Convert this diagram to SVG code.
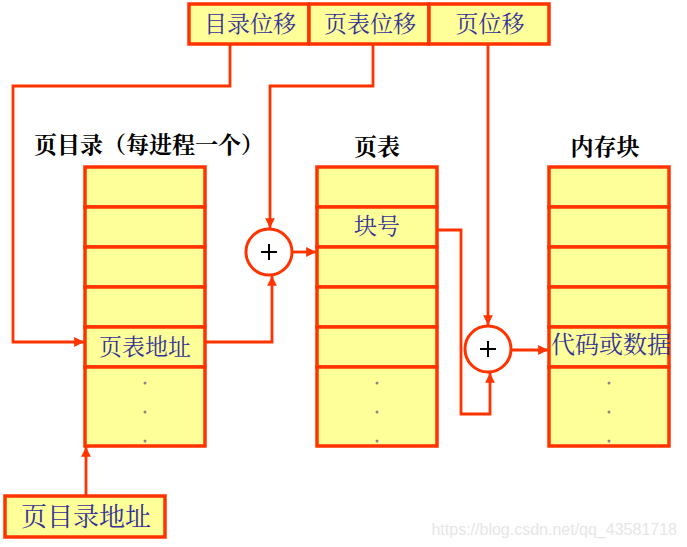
<svg xmlns="http://www.w3.org/2000/svg" width="687" height="547" viewBox="0 0 687 547">
<style>
.cell{fill:#ffff99;stroke:#ff3300;stroke-width:3.5}
.ln{fill:none;stroke:#ff3300;stroke-width:2.8}
.lbl{font-family:"Noto Serif CJK SC","Noto Sans CJK SC",serif;fill:#333399;font-size:23px;text-anchor:middle}
.ttl{font-family:"Noto Serif CJK SC","Noto Sans CJK SC",serif;fill:#000;font-size:23px;font-weight:bold;text-anchor:middle}
.dot{fill:#888}
.sum{fill:#fff;stroke:#ff3300;stroke-width:3}
.plus{stroke:#000;stroke-width:2}
</style>
<defs>
<marker id="ah" viewBox="0 0 10 10" refX="10" refY="5" markerWidth="3.5" markerHeight="3.5" orient="auto" markerUnits="strokeWidth">
<path d="M0,0 L10,5 L0,10 z" fill="#ff3300"/>
</marker>
</defs>
<rect width="687" height="547" fill="#fff"/>

<g id="header">
<rect class="cell" x="189" y="4" width="120" height="40"/>
<rect class="cell" x="309" y="4" width="120" height="40"/>
<rect class="cell" x="429" y="4" width="120" height="40"/>
<text class="lbl" x="250" y="32">目录位移</text>
<text class="lbl" x="370" y="32">页表位移</text>
<text class="lbl" x="490" y="32">页位移</text>
</g>

<g id="pagedir">
<text class="ttl" x="149" y="153">页目录（每进程一个）</text>
<rect class="cell" x="85" y="167" width="120" height="40"/>
<rect class="cell" x="85" y="207" width="120" height="40"/>
<rect class="cell" x="85" y="247" width="120" height="40"/>
<rect class="cell" x="85" y="287" width="120" height="40"/>
<rect class="cell" x="85" y="327" width="120" height="40"/>
<rect class="cell" x="85" y="367" width="120" height="79"/>
<text class="lbl" x="145" y="355">页表地址</text>
<circle class="dot" cx="145" cy="383" r="1.5"/>
<circle class="dot" cx="145" cy="412" r="1.5"/>
<circle class="dot" cx="145" cy="441" r="1.5"/>
</g>

<g id="pagetable">
<text class="ttl" x="377" y="155">页表</text>
<rect class="cell" x="317" y="167" width="120" height="40"/>
<rect class="cell" x="317" y="207" width="120" height="40"/>
<rect class="cell" x="317" y="247" width="120" height="40"/>
<rect class="cell" x="317" y="287" width="120" height="40"/>
<rect class="cell" x="317" y="327" width="120" height="40"/>
<rect class="cell" x="317" y="367" width="120" height="79"/>
<text class="lbl" x="377" y="234">块号</text>
<circle class="dot" cx="377" cy="383" r="1.5"/>
<circle class="dot" cx="377" cy="412" r="1.5"/>
<circle class="dot" cx="377" cy="441" r="1.5"/>
</g>

<g id="memblock">
<text class="ttl" x="605" y="155">内存块</text>
<rect class="cell" x="549" y="167" width="120" height="40"/>
<rect class="cell" x="549" y="207" width="120" height="40"/>
<rect class="cell" x="549" y="247" width="120" height="40"/>
<rect class="cell" x="549" y="287" width="120" height="40"/>
<rect class="cell" x="549" y="327" width="120" height="40"/>
<rect class="cell" x="549" y="367" width="120" height="79"/>
<text class="lbl" x="611" y="353" style="font-size:24px">代码或数据</text>
<circle class="dot" cx="609" cy="383" r="1.5"/>
<circle class="dot" cx="609" cy="412" r="1.5"/>
<circle class="dot" cx="609" cy="441" r="1.5"/>
</g>

<g id="diraddr">
<rect class="cell" x="5" y="496" width="160" height="41"/>
<text class="lbl" x="86" y="526" style="font-size:26px">页目录地址</text>
</g>

<g id="sum1">
<circle class="sum" cx="269" cy="252" r="23"/>
<line class="plus" x1="261" y1="252" x2="277" y2="252"/>
<line class="plus" x1="269" y1="244" x2="269" y2="260"/>
</g>

<g id="sum2">
<circle class="sum" cx="488" cy="349" r="23"/>
<line class="plus" x1="480" y1="349" x2="496" y2="349"/>
<line class="plus" x1="488" y1="341" x2="488" y2="357"/>
</g>

<g id="connectors">
<polyline class="ln" points="230,45 230,86 13,86 13,342 84,342" marker-end="url(#ah)"/>
<polyline class="ln" points="373,45 373,86 270,86 270,228" marker-end="url(#ah)"/>
<polyline class="ln" points="206,342 272,342 272,276" marker-end="url(#ah)"/>
<line class="ln" x1="293" y1="252" x2="316" y2="252" marker-end="url(#ah)"/>
<polyline class="ln" points="438,230 461,230 461,414 490,414 490,373" marker-end="url(#ah)"/>
<line class="ln" x1="488" y1="45" x2="488" y2="325" marker-end="url(#ah)"/>
<line class="ln" x1="512" y1="350" x2="548" y2="350" marker-end="url(#ah)"/>
<line class="ln" x1="86" y1="495" x2="86" y2="447" marker-end="url(#ah)"/>
</g>

<text x="677" y="535" style="font-family:'Liberation Sans',Arial,sans-serif;font-size:16px;fill:#e6e6e6;text-anchor:end">https://blog.csdn.net/qq_43581718</text>
</svg>
